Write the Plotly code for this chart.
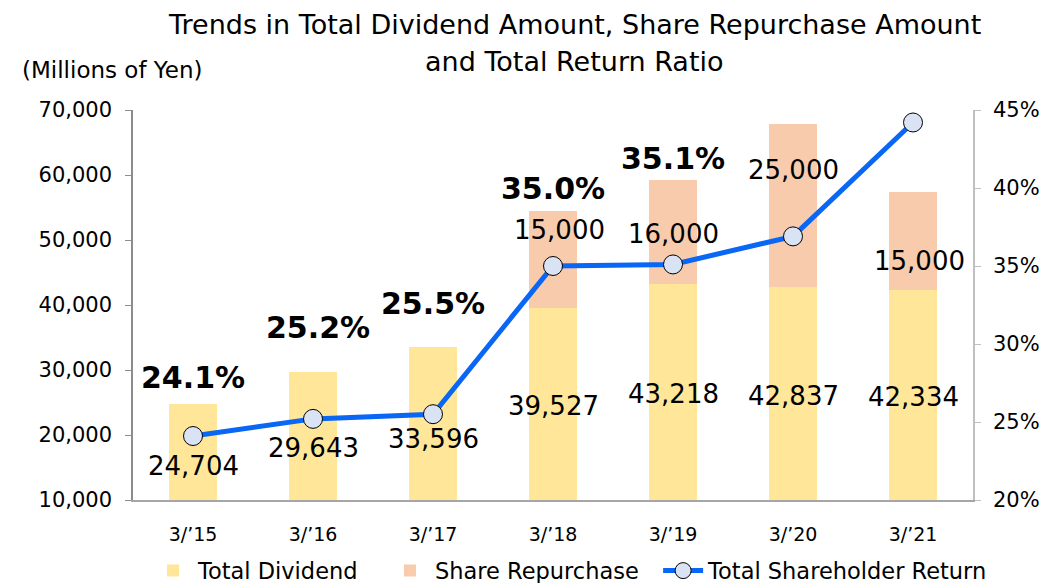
import plotly.graph_objects as go

# fiscal years and values (millions of yen / %)
years = ["3/’15", "3/’16", "3/’17", "3/’18", "3/’19", "3/’20", "3/’21"]
total_dividend = [24704, 29643, 33596, 39527, 43218, 42837, 42334]
share_repurchase = [0, 0, 0, 15000, 16000, 25000, 15000]
total_return_ratio = [24.1, 25.2, 25.5, 35.0, 35.1, 36.9, 44.2]

# where the hand-placed labels sit, in left-axis units
div_label_y = [15200, 18000, 19400, 24500, 26300, 26000, 25800]
rep_label_y = [None, None, None, 51500, 50900, 60800, 46800]
pct_label_y = [28900, 36500, 40300, 58000, 62500, 70200, 72200]
pct_label_dx = [0, 5, 0, 0, 0, 0, 0]
rep_label_dx = [0, 0, 0, 6, 0, 0, 6]

FONT = "DejaVu Sans"
NBSP = "\u00a0"

fig = go.Figure()
fig.add_trace(go.Bar(
    x=years, y=total_dividend, name="Total Dividend" + NBSP * 3,
    marker=dict(color="#FFE699", line=dict(width=0)), width=0.4
))
fig.add_trace(go.Bar(
    x=years, y=share_repurchase, name="Share Repurchase" + NBSP * 2,
    marker=dict(color="#F8CBAD", line=dict(width=0)), width=0.4
))
fig.add_trace(go.Scatter(
    x=years, y=total_return_ratio, name="Total Shareholder Return",
    yaxis="y2", mode="lines+markers",
    line=dict(color="#0A66F5", width=5),
    marker=dict(size=19, color="#DAE3F3", line=dict(color="#000000", width=1))
))

annotations = []
for i, yr in enumerate(years):
    annotations.append(dict(
        x=yr, y=div_label_y[i], text=f"{total_dividend[i]:,}", showarrow=False,
        font=dict(family=FONT, size=26, color="#000000")
    ))
    if rep_label_y[i] is not None:
        annotations.append(dict(
            x=yr, y=rep_label_y[i], text=f"{share_repurchase[i]:,}", showarrow=False,
            xshift=rep_label_dx[i],
            font=dict(family=FONT, size=26, color="#000000")
        ))
    annotations.append(dict(
        x=yr, y=pct_label_y[i], text=f"<b>{total_return_ratio[i]:.1f}%</b>", showarrow=False,
        xshift=pct_label_dx[i],
        font=dict(family=FONT, size=30, color="#000000")
    ))

# title lines and unit label
annotations += [
    dict(xref="paper", yref="paper", x=0.525, y=1.2205, xanchor="center", yanchor="middle",
         text="Trends in Total Dividend Amount, Share Repurchase Amount", showarrow=False,
         font=dict(family=FONT, size=27, color="#000000")),
    dict(xref="paper", yref="paper", x=0.525, y=1.1231, xanchor="center", yanchor="middle",
         text="and Total Return Ratio", showarrow=False,
         font=dict(family=FONT, size=27, color="#000000")),
    dict(xref="paper", yref="paper", x=-0.135, y=1.103, xanchor="left", yanchor="middle",
         text="(Millions of Yen)", showarrow=False,
         font=dict(family=FONT, size=23, color="#000000")),
]

# the page puts the figure 8px in from the top-left, so size it to fit
fig.update_layout(
    width=1041, height=575,
    margin=dict(l=125, r=76, t=102, b=83, autoexpand=False),
    paper_bgcolor="white", plot_bgcolor="white",
    barmode="stack",
    font=dict(family=FONT, color="#000000"),
    xaxis=dict(
        showline=True, linecolor="#A6A6A6", linewidth=1.5, ticks="",
        tickfont=dict(size=19), showgrid=False, ticklabelstandoff=16
    ),
    yaxis=dict(
        range=[10000, 70000], dtick=10000, tickformat=",d",
        showline=True, linecolor="#8C8C8C", linewidth=1.5,
        ticks="outside", ticklen=6, tickcolor="#8C8C8C", ticklabelstandoff=9,
        showgrid=False, zeroline=False, tickfont=dict(size=21)
    ),
    yaxis2=dict(
        range=[20, 45], dtick=5, ticksuffix="%", overlaying="y", side="right",
        showline=True, linecolor="#BFBFBF", linewidth=1.5,
        ticks="outside", ticklen=6, tickcolor="#BFBFBF", ticklabelstandoff=8,
        showgrid=False, zeroline=False, tickfont=dict(size=21)
    ),
    legend=dict(
        orientation="h", xref="container", yref="container",
        x=0.1345, xanchor="left", y=0.0209, yanchor="middle",
        font=dict(size=22.5), traceorder="normal", itemwidth=40
    ),
    annotations=annotations,
    showlegend=True
)

fig.write_html("out.html")
